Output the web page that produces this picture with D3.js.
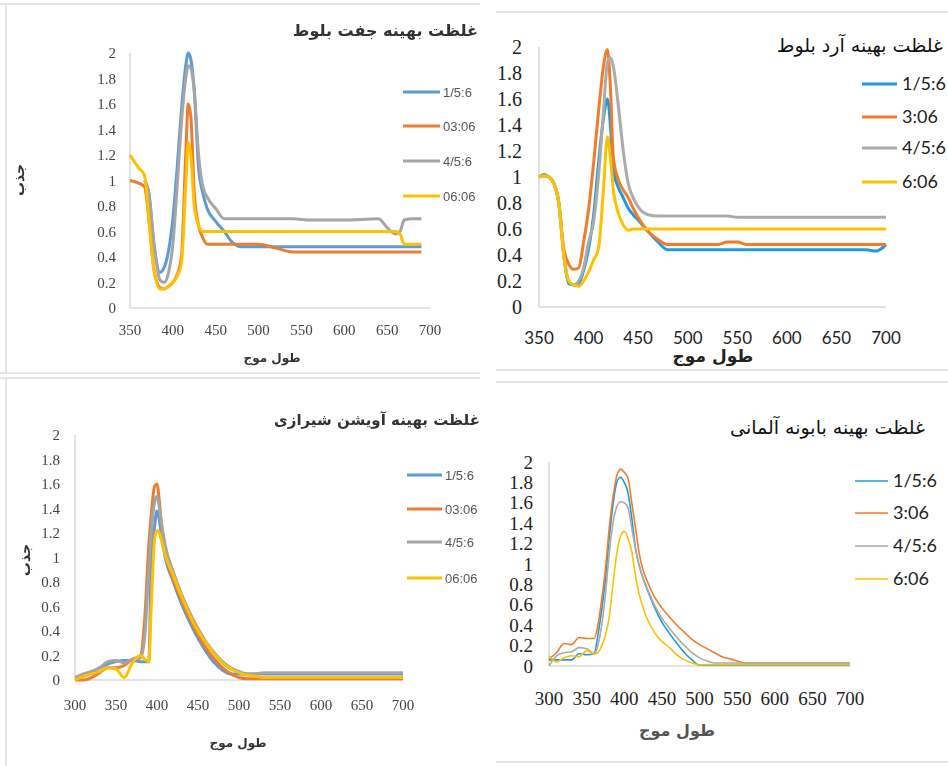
<!DOCTYPE html>
<html>
<head>
<meta charset="utf-8">
<script src="https://cdn.jsdelivr.net/npm/d3@7"></script>
<style>
  body { margin: 0; background: #fff; }
  svg { display: block; }
  .serif { font-family: "Liberation Serif", "Times New Roman", "DejaVu Serif", serif; }
</style>
</head>
<body>
<div id="chart"></div>
<script>
// ---- data ----
var yTicks = [0, 0.2, 0.4, 0.6, 0.8, 1, 1.2, 1.4, 1.6, 1.8, 2];
var xTicks350 = [350, 400, 450, 500, 550, 600, 650, 700];
var xTicks300 = [300, 350, 400, 450, 500, 550, 600, 650, 700];
var namesA = ["1/5:6", "03:06", "4/5:6", "06:06"];
var namesB = ["1/5:6", "3:06", "4/5:6", "6:06"];

// top left: جفت بلوط
var tlWave = [350, 360, 367, 372, 378, 385, 390, 395, 400, 405, 410, 415, 418, 421, 425, 430, 435, 440, 450, 460, 470, 480, 500, 520, 540, 560, 600, 640, 650, 660, 665, 670, 680, 690];
var tlBlue   = [null, null, 1.0, 0.9, 0.5, 0.28, 0.32, 0.45, 0.7, 1.1, 1.55, 1.9, 2.0, 1.95, 1.7, 1.1, 0.9, 0.78, 0.68, 0.6, 0.51, 0.48, 0.48, 0.48, 0.48, 0.48, 0.48, 0.48, 0.48, 0.48, 0.48, 0.48, 0.48, 0.48];
var tlOrange = [1.0, 0.98, 0.95, 0.7, 0.3, 0.16, 0.15, 0.17, 0.2, 0.26, 0.4, 1.2, 1.6, 1.5, 0.9, 0.65, 0.55, 0.5, 0.5, 0.5, 0.5, 0.5, 0.5, 0.47, 0.44, 0.44, 0.44, 0.44, 0.44, 0.44, 0.44, 0.44, 0.44, 0.44];
var tlGray   = [null, null, 1.0, 0.9, 0.5, 0.22, 0.2, 0.28, 0.5, 0.95, 1.45, 1.8, 1.9, 1.88, 1.7, 1.2, 0.95, 0.87, 0.78, 0.7, 0.7, 0.7, 0.7, 0.7, 0.7, 0.69, 0.69, 0.7, 0.63, 0.58, 0.6, 0.69, 0.7, 0.7];
var tlYellow = [1.2, 1.1, 1.04, 0.7, 0.3, 0.15, 0.15, 0.17, 0.2, 0.25, 0.35, 0.95, 1.3, 1.2, 0.8, 0.65, 0.6, 0.6, 0.6, 0.6, 0.6, 0.6, 0.6, 0.6, 0.6, 0.6, 0.6, 0.6, 0.6, 0.6, 0.58, 0.5, 0.5, 0.5];

// top right: آرد بلوط
var trWave = [350, 355, 360, 365, 370, 375, 380, 385, 390, 395, 400, 405, 410, 415, 419, 422, 425, 430, 435, 440, 445, 450, 460, 470, 480, 490, 500, 530, 540, 550, 560, 600, 650, 680, 690, 700];
var trBlue   = [1.0, 1.02, 1.0, 0.95, 0.8, 0.4, 0.18, 0.17, 0.18, 0.28, 0.45, 0.7, 1.1, 1.45, 1.6, 1.4, 1.05, 0.92, 0.84, 0.76, 0.71, 0.67, 0.58, 0.5, 0.44, 0.44, 0.44, 0.44, 0.44, 0.44, 0.44, 0.44, 0.44, 0.44, 0.43, 0.48];
var trOrange = [1.0, 1.01, 1.0, 0.95, 0.8, 0.45, 0.33, 0.29, 0.3, 0.5, 0.75, 1.1, 1.5, 1.85, 1.98, 1.7, 1.15, 0.98, 0.9, 0.84, 0.76, 0.69, 0.58, 0.52, 0.48, 0.48, 0.48, 0.48, 0.5, 0.5, 0.48, 0.48, 0.48, 0.48, 0.48, 0.48];
var trGray   = [1.0, 1.01, 1.0, 0.95, 0.8, 0.4, 0.2, 0.17, 0.2, 0.3, 0.5, 0.65, 1.0, 1.5, 1.88, 1.92, 1.85, 1.55, 1.2, 0.95, 0.84, 0.77, 0.71, 0.7, 0.7, 0.7, 0.7, 0.7, 0.7, 0.69, 0.69, 0.69, 0.69, 0.69, 0.69, 0.69];
var trYellow = [1.0, 1.01, 1.0, 0.95, 0.8, 0.4, 0.2, 0.17, 0.16, 0.2, 0.27, 0.36, 0.45, 0.9, 1.31, 1.15, 0.9, 0.72, 0.63, 0.59, 0.6, 0.6, 0.6, 0.6, 0.6, 0.6, 0.6, 0.6, 0.6, 0.6, 0.6, 0.6, 0.6, 0.6, 0.6, 0.6];

// bottom left: آویشن شیرازی
var blWave = [300, 310, 320, 330, 340, 350, 360, 370, 380, 385, 390, 393, 397, 400, 403, 405, 410, 420, 430, 440, 450, 460, 470, 480, 490, 500, 510, 520, 530, 550, 600, 650, 700];
var blBlue   = [0.02, 0.03, 0.06, 0.1, 0.13, 0.15, 0.16, 0.16, 0.15, 0.15, 0.15, 0.95, 1.25, 1.38, 1.3, 1.2, 1.0, 0.8, 0.62, 0.47, 0.34, 0.23, 0.14, 0.08, 0.05, 0.05, 0.05, 0.05, 0.05, 0.05, 0.05, 0.05, 0.05];
var blOrange = [0.0, 0.0, 0.02, 0.06, 0.1, 0.1, 0.12, 0.17, 0.2, 0.5, 1.1, 1.35, 1.58, 1.6, 1.45, 1.3, 1.05, 0.82, 0.65, 0.5, 0.37, 0.26, 0.17, 0.1, 0.05, 0.02, 0.01, 0.01, 0.01, 0.01, 0.01, 0.01, 0.01];
var blGray   = [0.02, 0.05, 0.07, 0.1, 0.15, 0.16, 0.14, 0.17, 0.18, 0.35, 0.9, 1.2, 1.45, 1.5, 1.4, 1.3, 1.1, 0.88, 0.7, 0.55, 0.42, 0.31, 0.22, 0.15, 0.1, 0.07, 0.05, 0.05, 0.06, 0.06, 0.06, 0.06, 0.06];
var blYellow = [0.0, 0.03, 0.05, 0.07, 0.1, 0.09, 0.02, 0.14, 0.2, 0.17, 0.15, 0.6, 1.15, 1.22, 1.2, 1.15, 1.02, 0.85, 0.68, 0.53, 0.4, 0.3, 0.21, 0.14, 0.09, 0.06, 0.04, 0.03, 0.02, 0.02, 0.02, 0.02, 0.02];

// bottom right: بابونه آلمانی
var brWave = [300, 310, 320, 330, 340, 350, 360, 365, 370, 375, 380, 385, 390, 395, 400, 405, 410, 415, 420, 425, 430, 440, 450, 460, 470, 480, 490, 500, 510, 520, 530, 540, 550, 560, 580, 600, 650, 700];
var brBlue   = [0.06, 0.06, 0.06, 0.06, 0.12, 0.11, 0.12, 0.3, 0.55, 0.85, 1.25, 1.58, 1.8, 1.85, 1.8, 1.7, 1.45, 1.15, 0.98, 0.86, 0.76, 0.58, 0.43, 0.32, 0.22, 0.13, 0.06, 0.01, 0.01, 0.01, 0.01, 0.01, 0.01, 0.01, 0.01, 0.01, 0.01, 0.01];
var brOrange = [0.07, 0.13, 0.22, 0.21, 0.28, 0.27, 0.27, 0.4, 0.65, 0.95, 1.35, 1.65, 1.86, 1.93, 1.9, 1.84, 1.6, 1.35, 1.1, 0.94, 0.84, 0.68, 0.57, 0.48, 0.4, 0.33, 0.26, 0.21, 0.17, 0.13, 0.09, 0.07, 0.05, 0.03, 0.03, 0.03, 0.03, 0.03];
var brGray   = [0.0, 0.1, 0.13, 0.14, 0.18, 0.17, 0.12, 0.2, 0.4, 0.7, 1.1, 1.4, 1.56, 1.61, 1.6, 1.55, 1.35, 1.15, 0.98, 0.86, 0.77, 0.6, 0.47, 0.37, 0.28, 0.2, 0.13, 0.08, 0.05, 0.03, 0.03, 0.03, 0.03, 0.03, 0.03, 0.03, 0.03, 0.03];
var brYellow = [0.1, 0.04, 0.08, 0.1, 0.09, 0.15, 0.12, 0.13, 0.2, 0.3, 0.48, 0.8, 1.1, 1.27, 1.32, 1.25, 1.12, 0.88, 0.7, 0.57, 0.47, 0.33, 0.24, 0.18, 0.11, 0.06, 0.03, 0.01, 0.015, 0.015, 0.015, 0.015, 0.015, 0.015, 0.015, 0.015, 0.015, 0.015];

var colorsSoft = ["#5B9BD5", "#ED7D31", "#A5A5A5", "#FFC000"];
var colorsSharp = ["#1F9BDB", "#F47B28", "#ABABAB", "#FFC000"];

var W = 948, H = 766;
var svg = d3.select("#chart").append("svg").attr("width", W).attr("height", H);

var defs = svg.append("defs");
defs.append("filter").attr("id", "soft")
  .append("feGaussianBlur").attr("stdDeviation", 0.6);

// panel frames
var frames = [
  [0, 4, 480, 4], [6, 4, 6, 373], [0, 373, 480, 373],
  [496, 12, 948, 12], [496, 370, 948, 370],
  [0, 378, 480, 378], [6, 378, 6, 766],
  [496, 382, 948, 382], [496, 762, 948, 762]
];
svg.append("g").selectAll("line").data(frames).join("line")
  .attr("x1", d => d[0]).attr("y1", d => d[1])
  .attr("x2", d => d[2]).attr("y2", d => d[3])
  .attr("stroke", "#dcdcdc").attr("stroke-width", 1.5);

function drawPanel(p) {
  var clipId = "clip" + p.id;
  defs.append("clipPath").attr("id", clipId)
    .append("rect").attr("x", p.clip[0]).attr("y", p.clip[1])
    .attr("width", p.clip[2]).attr("height", p.clip[3]);

  var g = svg.append("g").attr("clip-path", "url(#" + clipId + ")");
  if (p.soft) g = g.append("g").attr("filter", "url(#soft)");

  var x = d3.scaleLinear().domain(p.xDomain).range(p.xRange);
  var y = d3.scaleLinear().domain([0, 2]).range(p.yRange);

  // axes lines
  g.append("line").attr("x1", x(p.xDomain[0])).attr("x2", x(p.xDomain[1]))
    .attr("y1", y(0)).attr("y2", y(0)).attr("stroke", "#d9d9d9").attr("stroke-width", 1.5);
  g.append("line").attr("x1", x(p.xDomain[0])).attr("x2", x(p.xDomain[0]))
    .attr("y1", y(0)).attr("y2", y(2)).attr("stroke", "#d9d9d9").attr("stroke-width", 1.5);

  // y tick labels
  g.append("g").attr("class", "serif").selectAll("text").data(yTicks).join("text")
    .attr("x", p.yLabX).attr("y", d => y(d)).attr("dy", "0.35em")
    .attr("text-anchor", "end")
    .attr("font-size", p.yFont)
    .attr("fill", p.tickColor)
    .text(d => d);

  // x tick labels
  var xt = g.append("g").attr("class", p.xSerif ? "serif" : null);
  xt.selectAll("text").data(p.xTicks).join("text")
    .attr("x", d => x(d)).attr("y", p.xLabY).attr("dy", "0.35em")
    .attr("text-anchor", "middle")
    .attr("font-family", p.xSerif ? null : "Lato")
    .attr("font-size", p.xFont)
    .attr("fill", p.tickColor)
    .text(d => d);

  // series
  var line = d3.line()
    .defined(d => d[1] != null)
    .x(d => x(d[0])).y(d => y(d[1]))
    .curve(d3.curveMonotoneX);
  p.series.forEach(function (vals, i) {
    var pts = p.wave.map((w, k) => [w, vals[k]]);
    g.append("path").datum(pts)
      .attr("d", line)
      .attr("fill", "none")
      .attr("stroke", p.colors[i])
      .attr("stroke-width", p.lineW)
      .attr("stroke-linejoin", "round");
  });

  // legend
  var leg = g.append("g");
  p.names.forEach(function (n, i) {
    leg.append("line")
      .attr("x1", p.leg.x1).attr("x2", p.leg.x2)
      .attr("y1", p.leg.rows[i]).attr("y2", p.leg.rows[i])
      .attr("stroke", p.colors[i]).attr("stroke-width", p.legW);
    leg.append("text")
      .attr("x", p.leg.tx).attr("y", p.leg.rows[i]).attr("dy", "0.35em")
      .attr("font-family", p.legFamily).attr("font-size", p.legFont)
      .attr("fill", p.legColor)
      .text(n);
  });

  // title
  g.append("text")
    .attr("x", p.title.x).attr("y", p.title.y).attr("dy", "0.35em")
    .attr("text-anchor", "end")
    .attr("font-family", "DejaVu Sans").attr("font-size", p.title.size)
    .attr("font-weight", p.title.weight)
    .attr("fill", p.title.color)
    .text(p.title.text);

  // x axis title
  g.append("text")
    .attr("x", p.xTitle[0]).attr("y", p.xTitle[1]).attr("dy", "0.35em")
    .attr("text-anchor", "middle")
    .attr("font-family", "DejaVu Sans").attr("font-size", p.xTitle[2])
    .attr("font-weight", "bold").attr("fill", p.xTitle[3])
    .text("طول موج");

  // y axis title
  if (p.yTitle) {
    g.append("text")
      .attr("transform", "translate(" + p.yTitle[0] + "," + p.yTitle[1] + ") rotate(-90)")
      .attr("dy", "0.35em")
      .attr("text-anchor", "middle")
      .attr("font-family", "DejaVu Sans").attr("font-size", 14)
      .attr("font-weight", "bold").attr("fill", "#333")
      .text("جذب");
  }
}

drawPanel({
  id: "tl", clip: [0, 0, 480, 375], soft: true,
  xDomain: [350, 700], xRange: [130, 430], yRange: [308, 53],
  xTicks: xTicks350, yLabX: 116, xLabY: 330, yFont: 15, xFont: 15,
  xSerif: true, tickColor: "#444",
  wave: tlWave, series: [tlBlue, tlOrange, tlGray, tlYellow],
  colors: colorsSoft, lineW: 3, names: namesA,
  leg: { x1: 403, x2: 440, tx: 443, rows: [92, 126, 161, 196] }, legW: 3,
  legFamily: "Liberation Sans", legFont: 13, legColor: "#555",
  title: { text: "غلظت بهینه جفت بلوط", x: 478, y: 30, size: 16, weight: "bold", color: "#333" },
  xTitle: [272, 358, 12, "#333"], yTitle: [19, 180]
});

drawPanel({
  id: "tr", clip: [480, 0, 468, 375], soft: false,
  xDomain: [350, 700], xRange: [539, 886], yRange: [307, 47],
  xTicks: xTicks350, yLabX: 522, xLabY: 338, yFont: 20, xFont: 17,
  xSerif: false, tickColor: "#222",
  wave: trWave, series: [trBlue, trOrange, trGray, trYellow],
  colors: colorsSharp, lineW: 3, names: namesB,
  leg: { x1: 862, x2: 897, tx: 902, rows: [84, 117, 148, 182] }, legW: 3,
  legFamily: "Lato", legFont: 18, legColor: "#222",
  title: { text: "غلظت بهینه آرد بلوط", x: 943, y: 45, size: 19, weight: "normal", color: "#111" },
  xTitle: [713, 356, 17, "#222"], yTitle: null
});

drawPanel({
  id: "bl", clip: [0, 375, 480, 391], soft: true,
  xDomain: [300, 700], xRange: [75, 403], yRange: [680, 435],
  xTicks: xTicks300, yLabX: 60, xLabY: 705, yFont: 15, xFont: 15,
  xSerif: true, tickColor: "#444",
  wave: blWave, series: [blBlue, blOrange, blGray, blYellow],
  colors: colorsSoft, lineW: 3, names: namesA,
  leg: { x1: 407, x2: 442, tx: 445, rows: [475, 509, 542, 578] }, legW: 3,
  legFamily: "Liberation Sans", legFont: 13, legColor: "#555",
  title: { text: "غلظت بهینه آویشن شیرازی", x: 480, y: 420, size: 15, weight: "bold", color: "#333" },
  xTitle: [238, 743, 12, "#333"], yTitle: [25, 560]
});

drawPanel({
  id: "br", clip: [480, 375, 468, 391], soft: false,
  xDomain: [300, 700], xRange: [549, 850], yRange: [666, 462],
  xTicks: xTicks300, yLabX: 533, xLabY: 698, yFont: 19, xFont: 19,
  xSerif: true, tickColor: "#222",
  wave: brWave, series: [brBlue, brOrange, brGray, brYellow],
  colors: colorsSharp, lineW: 1.6, names: namesB,
  leg: { x1: 855, x2: 888, tx: 893, rows: [481, 513, 546, 579] }, legW: 1.6,
  legFamily: "Lato", legFont: 18, legColor: "#222",
  title: { text: "غلظت بهینه بابونه آلمانی", x: 925, y: 427, size: 19, weight: "normal", color: "#111" },
  xTitle: [677, 730, 16, "#555"], yTitle: null
});
</script>
</body>
</html>
